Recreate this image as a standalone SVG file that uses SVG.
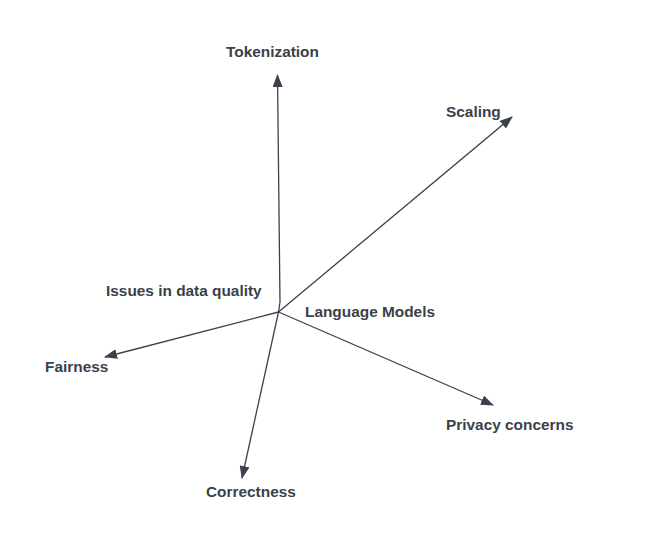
<svg xmlns="http://www.w3.org/2000/svg" width="668" height="560" viewBox="0 0 668 560">
<defs>
<style>
.lbl{font-family:"Liberation Sans",Arial,sans-serif;font-weight:bold;font-size:15.4px;fill:#3a414a}
.edge{stroke:#3a414a;stroke-width:1.3;fill:none}
</style>
<marker id="ah" viewBox="0 0 13 10" refX="12" refY="5" markerWidth="13" markerHeight="10" markerUnits="userSpaceOnUse" orient="auto">
<path d="M0,0 L13,5 L0,10 Z" fill="#3a414a"/>
</marker>
</defs>
<rect width="668" height="560" fill="#ffffff"/>
<g id="connectors">
<path class="edge" d="M278.5,312 L280,302 L277.5,75" marker-end="url(#ah)"/>
<path class="edge" d="M278.5,312 L512,117" marker-end="url(#ah)"/>
<path class="edge" d="M278.5,312 L105,357" marker-end="url(#ah)"/>
<path class="edge" d="M278.5,312 L493,405" marker-end="url(#ah)"/>
<path class="edge" d="M278.5,312 L242,478" marker-end="url(#ah)"/>
</g>
<g id="center"><text class="lbl" x="305" y="317">Language Models</text></g>
<g id="issues"><text class="lbl" x="106" y="296">Issues in data quality</text></g>
<g id="tokenization"><text class="lbl" x="226" y="57">Tokenization</text></g>
<g id="scaling"><text class="lbl" x="446" y="117">Scaling</text></g>
<g id="fairness"><text class="lbl" x="45" y="372">Fairness</text></g>
<g id="privacy"><text class="lbl" x="446" y="430">Privacy concerns</text></g>
<g id="correctness"><text class="lbl" x="206" y="497">Correctness</text></g>
</svg>
